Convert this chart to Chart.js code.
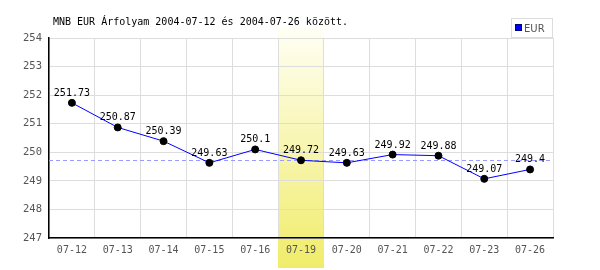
<!DOCTYPE html>
<html>
<head>
<meta charset="utf-8">
<script src="https://cdn.jsdelivr.net/npm/chart.js@4/dist/chart.umd.min.js"></script>
<style>
  body { margin: 0; background: #fff; }
  #wrap { width: 600px; height: 270px; }
</style>
</head>
<body>
<div id="wrap"><canvas id="myChart" width="600" height="270"></canvas></div>
<script>
const labels = ['07-12', '07-13', '07-14', '07-15', '07-16', '07-19', '07-20', '07-21', '07-22', '07-23', '07-26'];
const eurValues = [251.73, 250.87, 250.39, 249.63, 250.1, 249.72, 249.63, 249.92, 249.88, 249.07, 249.4];
const yTicks = [247, 248, 249, 250, 251, 252, 253, 254];
const highlightLabel = '07-19';
const refValue = 249.72;
const titleText = 'MNB EUR Árfolyam 2004-07-12 és 2004-07-26 között.';

const mono = '"DejaVu Sans Mono", monospace';

// yellow column, dashed reference line
const backdrop = {
    id: 'backdrop',
    beforeDraw(chart) {
        const c = chart.ctx;
        const x = chart.scales.x;
        const i = labels.indexOf(highlightLabel);
        const w = x.getPixelForValue(1) - x.getPixelForValue(0);
        const cx = x.getPixelForValue(i);
        const g = c.createLinearGradient(0, 28, 0, 268);
        g.addColorStop(0, '#fffff4');
        g.addColorStop(1, '#f0ec6a');
        c.save();
        c.fillStyle = g;
        c.fillRect(Math.round(cx - w / 2), 28, Math.round(w), 240);
        c.restore();
    },
    beforeDatasetsDraw(chart) {
        const c = chart.ctx;
        const a = chart.chartArea;
        const y = Math.round(chart.scales.y.getPixelForValue(refValue)) + 0.5;
        c.save();
        c.strokeStyle = '#9a9aff';
        c.lineWidth = 1;
        c.setLineDash([4, 3]);
        c.beginPath();
        c.moveTo(a.left, y);
        c.lineTo(a.right, y);
        c.stroke();
        c.restore();
    },
    afterDraw(chart) {
        const c = chart.ctx;
        const meta = chart.getDatasetMeta(0);
        c.save();
        // title
        c.font = '10px ' + mono;
        c.fillStyle = '#000';
        c.textAlign = 'left';
        c.textBaseline = 'alphabetic';
        c.fillText(titleText, 53, 25);
        // value labels
        c.textAlign = 'center';
        meta.data.forEach((p, i) => {
            c.fillText(String(eurValues[i]), p.x, p.y - 7);
        });
        // legend
        c.fillStyle = '#fff';
        c.fillRect(511, 18, 42, 20);
        c.strokeStyle = '#dddddd';
        c.strokeRect(511.5, 18.5, 41, 19);
        c.fillStyle = '#0000ff';
        c.fillRect(516, 25, 5, 5);
        c.strokeStyle = '#000080';
        c.strokeRect(515.5, 24.5, 6, 6);
        c.font = '10px "DejaVu Sans", sans-serif';
        c.fillStyle = '#555';
        c.textAlign = 'left';
        c.fillText('EUR', 524, 32);
        c.restore();
    }
};

new Chart(document.getElementById('myChart'), {
    type: 'line',
    data: {
        labels: labels,
        datasets: [{
            label: 'EUR',
            data: eurValues,
            borderColor: '#0000ff',
            borderWidth: 1,
            pointBackgroundColor: '#000',
            pointBorderColor: '#000',
            pointRadius: 3.5,
            tension: 0
        }]
    },
    plugins: [backdrop],
    options: {
        responsive: false,
        animation: false,
        layout: { padding: { left: 0, top: 38, right: 47, bottom: 0 } },
        plugins: {
            legend: { display: false },
            tooltip: { enabled: false }
        },
        scales: {
            x: {
                offset: true,
                grid: { color: '#dddddd', offset: true, drawTicks: false },
                border: { color: '#000', width: 1.5 },
                ticks: {
                    color: '#555',
                    font: { family: mono, size: 10 },
                    padding: 6,
                    maxRotation: 0,
                    autoSkip: false
                },
                afterFit(scale) { scale.height = 32; }
            },
            y: {
                min: 247,
                max: 254,
                afterBuildTicks(scale) { scale.ticks = yTicks.map(v => ({ value: v })); },
                grid: { color: '#dddddd', drawTicks: false },
                border: { color: '#000', width: 1.5 },
                ticks: {
                    color: '#555',
                    font: { family: mono, size: 10.5 },
                    padding: 7
                },
                afterFit(scale) { scale.width = 49; }
            }
        }
    }
});
</script>
</body>
</html>
